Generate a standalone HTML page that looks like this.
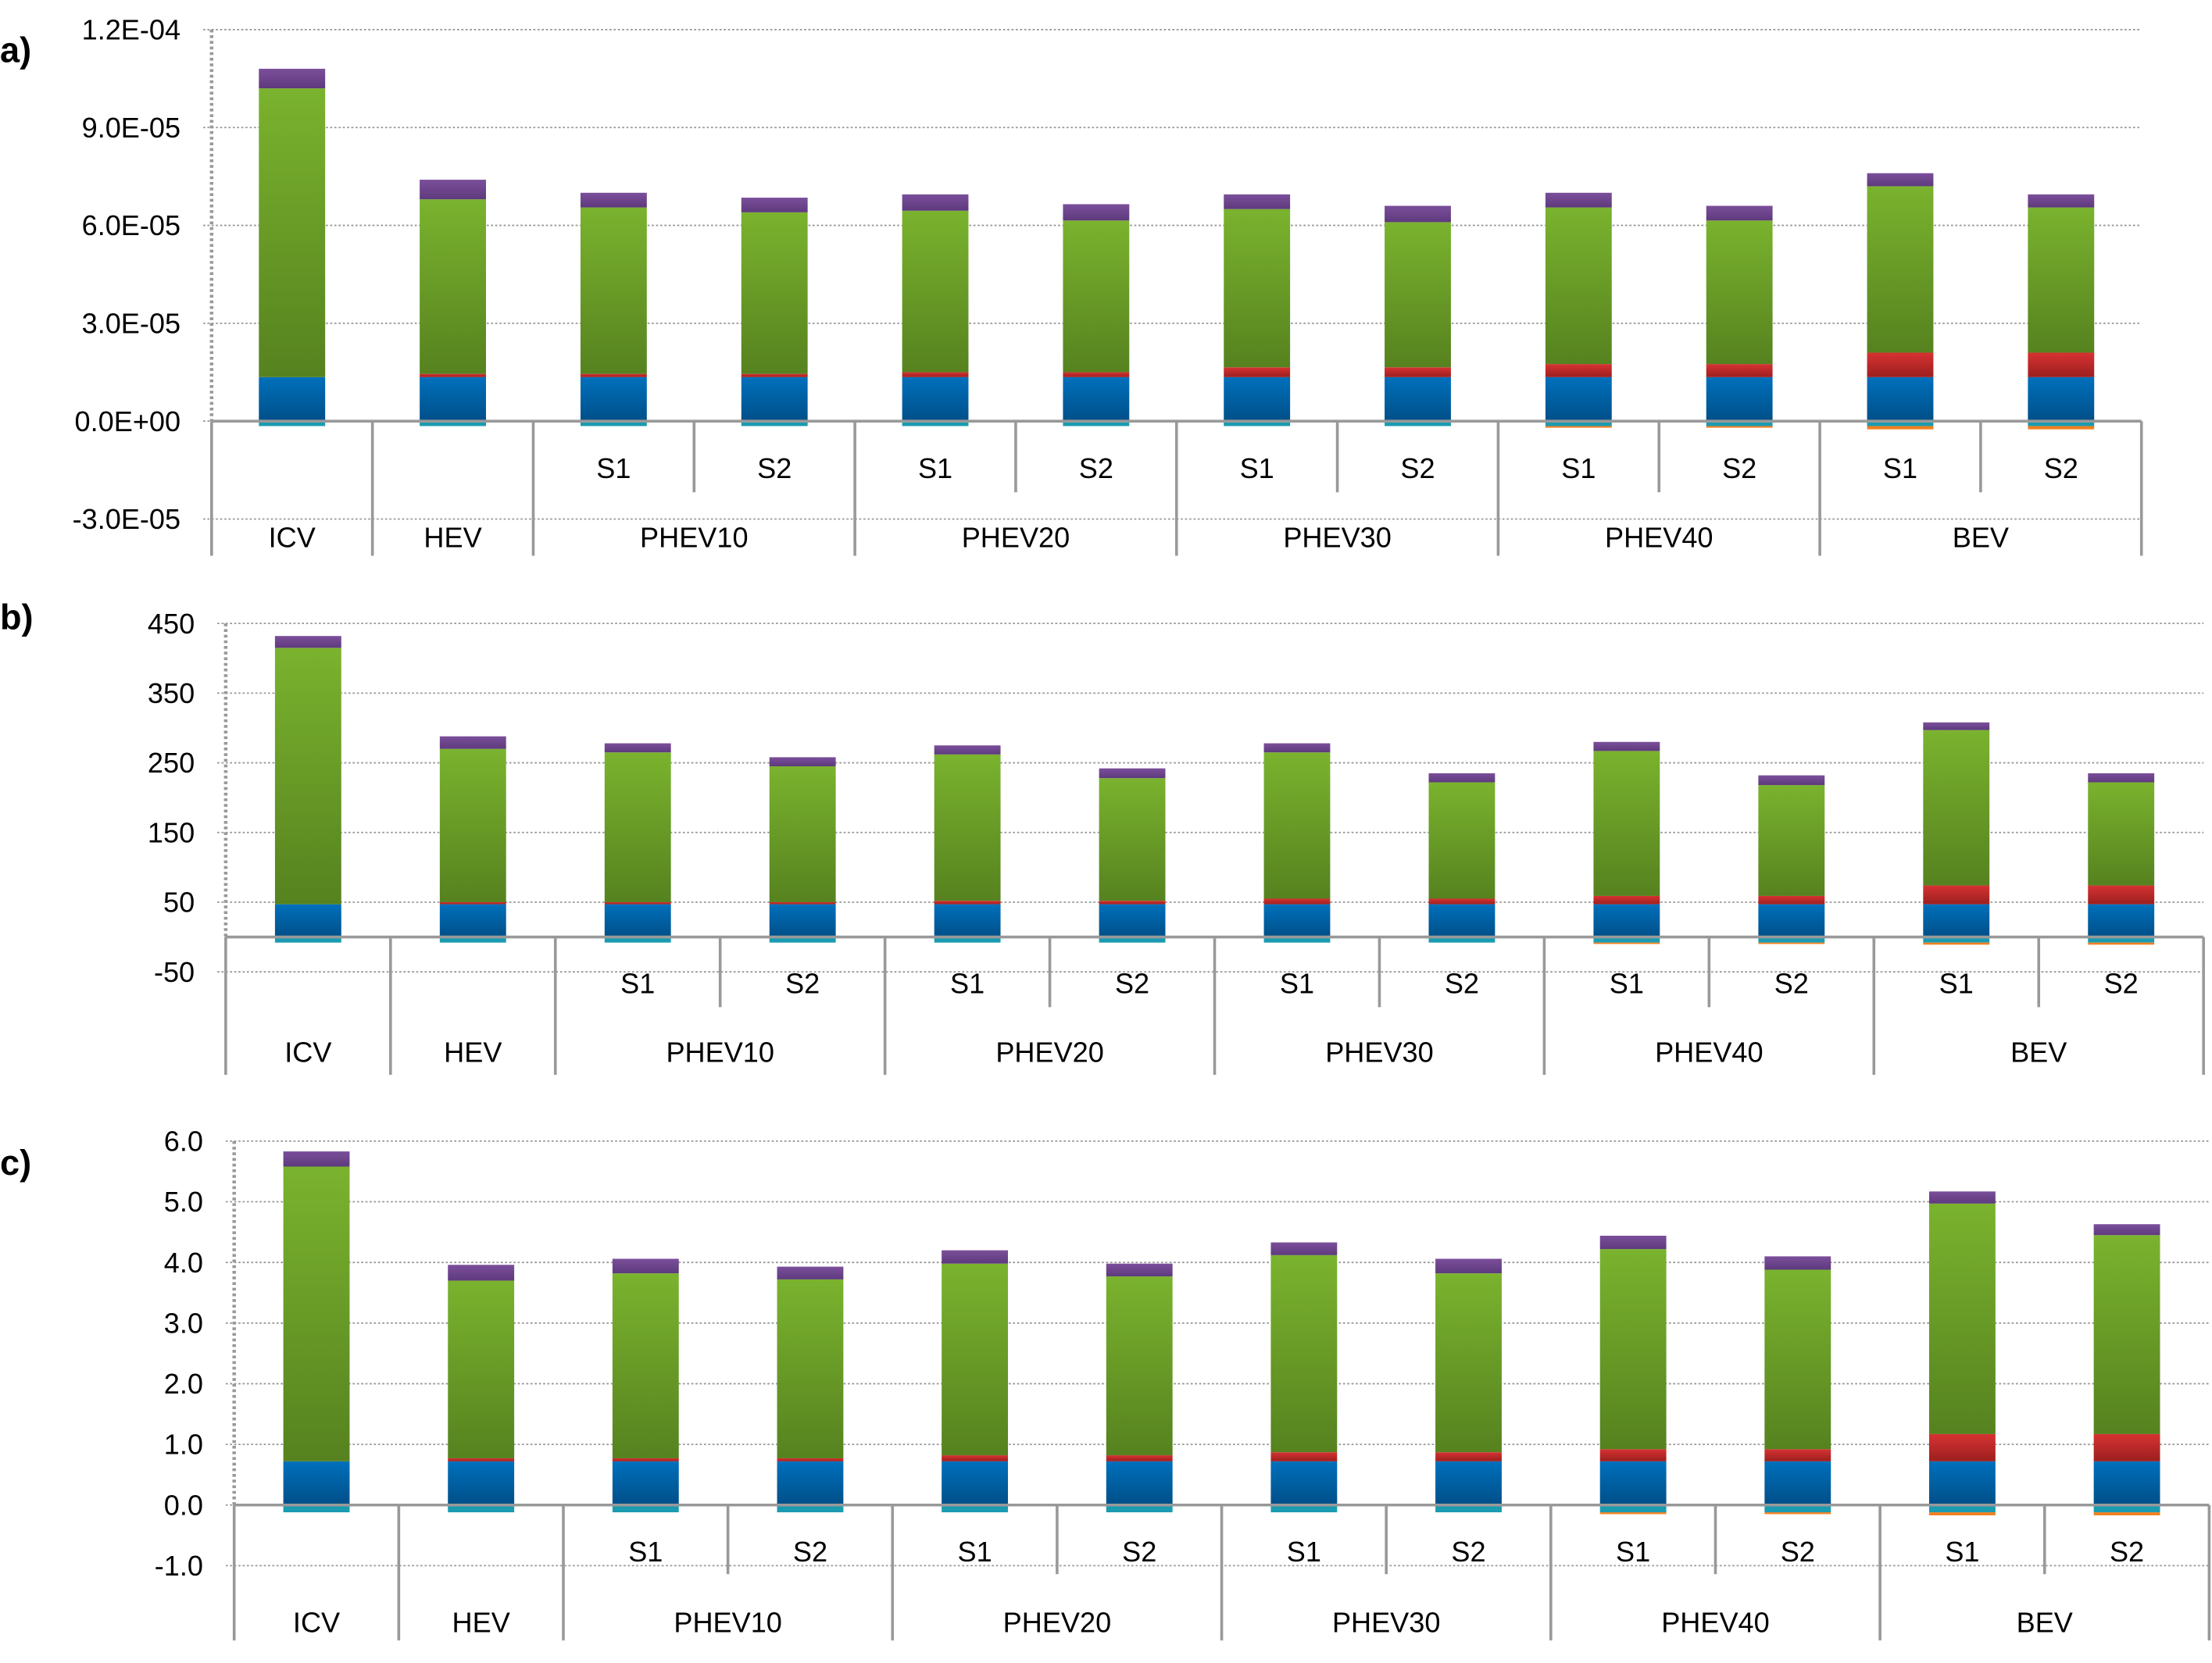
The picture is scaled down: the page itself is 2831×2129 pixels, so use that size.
<!DOCTYPE html>
<html><head><meta charset="utf-8"><style>
html,body{margin:0;padding:0;background:#fff;}
svg{display:block;}
text{font-family:"Liberation Sans",sans-serif;fill:#000;}
</style></head><body>
<svg id="chart" width="2831" height="2129" viewBox="0 0 1568 1179" preserveAspectRatio="none" xmlns="http://www.w3.org/2000/svg">
<defs>
<linearGradient id="gBlue" x1="0" y1="0" x2="0" y2="1"><stop offset="0" stop-color="#0070bc"/><stop offset="1" stop-color="#004f88"/></linearGradient>
<linearGradient id="gRed" x1="0" y1="0" x2="0" y2="1"><stop offset="0" stop-color="#d63232"/><stop offset="1" stop-color="#9c1f1f"/></linearGradient>
<linearGradient id="gGreen" x1="0" y1="0" x2="0" y2="1"><stop offset="0" stop-color="#7ab32e"/><stop offset="1" stop-color="#56821f"/></linearGradient>
<linearGradient id="gPurple" x1="0" y1="0" x2="0" y2="1"><stop offset="0" stop-color="#7b4f9b"/><stop offset="1" stop-color="#5e3a7d"/></linearGradient>
</defs>
</svg>
<script>
// Shared categories
const subLabels = ["", "", "S1", "S2", "S1", "S2", "S1", "S2", "S1", "S2", "S1", "S2"];
const groupLabels = ["ICV", "HEV", "PHEV10", "PHEV20", "PHEV30", "PHEV40", "BEV"];
const groupSpans = [1, 1, 2, 2, 2, 2, 2];

// Panel a (values in 1e-5)
const aTicks = ["1.2E-04", "9.0E-05", "6.0E-05", "3.0E-05", "0.0E+00", "-3.0E-05"];
const aTickVals = [12, 9, 6, 3, 0, -3];
const aCyan = [-0.15, -0.15, -0.15, -0.15, -0.15, -0.15, -0.15, -0.15, -0.15, -0.15, -0.15, -0.15];
const aOrange = [0, 0, 0, 0, 0, 0, 0, 0, -0.05, -0.05, -0.1, -0.1];
const aBlue = [1.35, 1.35, 1.35, 1.35, 1.35, 1.35, 1.35, 1.35, 1.35, 1.35, 1.35, 1.35];
const aRed = [0, 0.1, 0.1, 0.1, 0.15, 0.15, 0.3, 0.3, 0.4, 0.4, 0.75, 0.75];
const aGreen = [8.85, 5.35, 5.1, 4.95, 4.95, 4.65, 4.85, 4.45, 4.8, 4.4, 5.1, 4.45];
const aPurple = [0.6, 0.6, 0.45, 0.45, 0.5, 0.5, 0.45, 0.5, 0.45, 0.45, 0.4, 0.4];

// Panel b
const bTicks = ["450", "350", "250", "150", "50", "-50"];
const bTickVals = [450, 350, 250, 150, 50, -50];
const bCyan = [-8, -8, -8, -8, -8, -8, -8, -8, -8, -8, -8, -8];
const bOrange = [0, 0, 0, 0, 0, 0, 0, 0, -2, -2, -3, -3];
const bBlue = [47, 47, 47, 47, 47, 47, 47, 47, 47, 47, 47, 47];
const bRed = [0, 3, 3, 3, 5, 5, 8, 8, 12, 12, 27, 27];
const bGreen = [368, 220, 215, 195, 210, 176, 210, 167, 208, 159, 223, 148];
const bPurple = [17, 18, 13, 13, 13, 14, 13, 13, 13, 14, 11, 13];

// Panel c
const cTicks = ["6.0", "5.0", "4.0", "3.0", "2.0", "1.0", "0.0", "-1.0"];
const cTickVals = [6, 5, 4, 3, 2, 1, 0, -1];
const cCyan = [-0.12, -0.12, -0.12, -0.12, -0.12, -0.12, -0.12, -0.12, -0.12, -0.12, -0.12, -0.12];
const cOrange = [0, 0, 0, 0, 0, 0, 0, 0, -0.03, -0.03, -0.05, -0.05];
const cBlue = [0.72, 0.72, 0.72, 0.72, 0.72, 0.72, 0.72, 0.72, 0.72, 0.72, 0.72, 0.72];
const cRed = [0, 0.05, 0.05, 0.05, 0.1, 0.1, 0.15, 0.15, 0.2, 0.2, 0.45, 0.45];
const cGreen = [4.86, 2.93, 3.05, 2.95, 3.16, 2.95, 3.25, 2.95, 3.3, 2.96, 3.8, 3.28];
const cPurple = [0.25, 0.26, 0.24, 0.21, 0.22, 0.21, 0.21, 0.24, 0.22, 0.22, 0.2, 0.18];

const NS = "http://www.w3.org/2000/svg";
const svg = document.getElementById("chart");
function mk(tag, attrs, parent) {
  const e = document.createElementNS(NS, tag);
  for (const k in attrs) e.setAttribute(k, attrs[k]);
  (parent || svg).appendChild(e);
  return e;
}

function panel(cfg) {
  const g = mk("g", {});
  
  
  const y = v => cfg.y0 + (v - cfg.v0) * (cfg.y1 - cfg.y0) / (cfg.v1 - cfg.v0);
  const n = subLabels.length;
  const cw = (cfg.right - cfg.left) / n;
  const xc = i => cfg.left + cw * (i + 0.5);

  const lbl = mk("text", {x: 0, y: cfg.labelY, "font-size": 25, "font-weight": "bold"}, g);
  lbl.textContent = cfg.id + ")";
  
  

  cfg.tickVals.forEach((v, i) => {
    const yy = y(v);
    const gl = mk("line", {x1: cfg.left - 6, x2: cfg.right, y1: yy, y2: yy, stroke: "#999", "stroke-width": 1, "stroke-dasharray": "1.5 1.5"}, g);
    
    
    const t = mk("text", {x: cfg.left - 22, y: yy + 7, "font-size": 20, "text-anchor": "end"}, g);
    t.textContent = cfg.ticks[i];
    
    
  });
  const ya = mk("line", {x1: cfg.left, x2: cfg.left, y1: y(cfg.tickVals[0]), y2: y(0), stroke: "#999", "stroke-width": 2.5, "stroke-dasharray": "2 2"}, g);
  
  

  const segs = cfg.series;
  for (let i = 0; i < n; i++) {
    const bx = xc(i) - cfg.bw / 2;
    // negatives
    let nb = 0;
    [["#1a9bb0", segs.cyan], ["#f08020", segs.orange]].forEach(([col, arr]) => {
      const v = arr[i];
      if (v === 0) return;
      const r = mk("rect", {x: bx, y: y(nb), width: cfg.bw, height: Math.max(0.5, y(nb + v) - y(nb)), fill: col}, g);
      
      
      nb += v;
    });
    let base = 0;
    [["url(#gBlue)", segs.blue, "blue"], ["url(#gRed)", segs.red, "red"], ["url(#gGreen)", segs.green, "green"], ["url(#gPurple)", segs.purple, "purple"]].forEach(([col, arr, nm]) => {
      const v = arr[i];
      if (v === 0) return;
      const r = mk("rect", {x: bx, y: y(base + v), width: cfg.bw, height: y(base) - y(base + v), fill: col}, g);
      
      
      base += v;
    });
  }

  const za = mk("line", {x1: cfg.left, x2: cfg.right, y1: y(0), y2: y(0), stroke: "#999", "stroke-width": 2}, g);
  
  

  // category separators & labels
  let idx = 0;
  for (let gi = 0; gi < groupLabels.length; gi++) {
    const xs = cfg.left + cw * idx;
    const sep = mk("line", {x1: xs, x2: xs, y1: y(0), y2: cfg.bottom, stroke: "#999", "stroke-width": 2}, g);
    
    
    const span = groupSpans[gi];
    if (span === 2) {
      const xm = cfg.left + cw * (idx + 1);
      const s2 = mk("line", {x1: xm, x2: xm, y1: y(0), y2: cfg.subSepY, stroke: "#999", "stroke-width": 2}, g);
      
      
      for (let k = 0; k < 2; k++) {
        const t = mk("text", {x: xc(idx + k), y: cfg.subY, "font-size": 20, "text-anchor": "middle"}, g);
        t.textContent = subLabels[idx + k];
        
        
      }
    }
    const t = mk("text", {x: cfg.left + cw * (idx + span / 2), y: cfg.groupY, "font-size": 20, "text-anchor": "middle"}, g);
    t.textContent = groupLabels[gi];
    
    
    idx += span;
  }
  const end = mk("line", {x1: cfg.right, x2: cfg.right, y1: y(0), y2: cfg.bottom, stroke: "#999", "stroke-width": 2}, g);
  
  
}

panel({id: "a", left: 150, right: 1518, v0: 12, y0: 21, v1: -3, y1: 368, bottom: 394, subSepY: 349, subY: 339, groupY: 388, labelY: 44, bw: 47,
  ticks: aTicks, tickVals: aTickVals,
  series: {cyan: aCyan, orange: aOrange, blue: aBlue, red: aRed, green: aGreen, purple: aPurple}});
panel({id: "b", left: 160, right: 1562, v0: 450, y0: 442, v1: -50, y1: 689, bottom: 762, subSepY: 714, subY: 704, groupY: 753, labelY: 446, bw: 47,
  ticks: bTicks, tickVals: bTickVals,
  series: {cyan: bCyan, orange: bOrange, blue: bBlue, red: bRed, green: bGreen, purple: bPurple}});
panel({id: "c", left: 166, right: 1566, v0: 6, y0: 809, v1: -1, y1: 1110, bottom: 1163, subSepY: 1116, subY: 1107, groupY: 1157, labelY: 833, bw: 47,
  ticks: cTicks, tickVals: cTickVals,
  series: {cyan: cCyan, orange: cOrange, blue: cBlue, red: cRed, green: cGreen, purple: cPurple}});
</script>
</body></html>
